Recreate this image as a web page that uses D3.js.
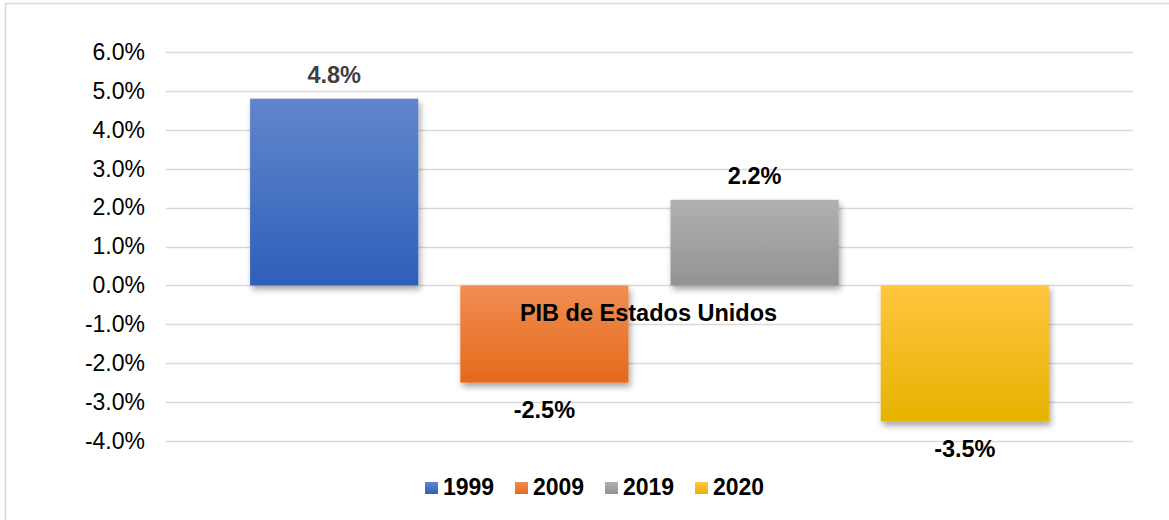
<!DOCTYPE html>
<html>
<head>
<meta charset="utf-8">
<script src="https://cdn.jsdelivr.net/npm/d3@7"></script>
<style>
  body { margin: 0; background: #fff; }
  svg { display: block; font-family: "Liberation Sans", Arial, sans-serif; }
</style>
</head>
<body>
<svg id="chart" width="1169" height="520"></svg>
<script>
// data
const series = ["1999", "2009", "2019", "2020"];
const values = [4.8, -2.5, 2.2, -3.5];
const yTicks = [-4, -3, -2, -1, 0, 1, 2, 3, 4, 5, 6];
const title = "PIB de Estados Unidos";
const gradStops = [
  ["#6186cc", "#2e5fb9"],
  ["#f18d52", "#e5691a"],
  ["#b0b0b0", "#939393"],
  ["#ffc640", "#e5b300"]
];
const labelColors = ["#404040", "#000", "#000", "#000"];

const svg = d3.select("#chart");
const W = 1169, H = 520;
const plot = {left: 166, right: 1133, top: 52, bottom: 441};

// hyphen instead of unicode minus, like the original
const pct = d => d3.format(".1f")(d).replace("\u2212", "-") + "%";

// outer border (only left/top visible in the picture)
svg.append("rect")
  .attr("x", 5.5).attr("y", 3.5)
  .attr("width", W + 50).attr("height", H + 50)
  .attr("fill", "none")
  .attr("stroke", "#d9d9d9")
  .attr("stroke-width", 1.5);

const y = d3.scaleLinear().domain([-4, 6]).range([plot.bottom, plot.top]);
const x = d3.scaleBand()
  .domain(series)
  .range([plot.left, plot.right])
  .paddingInner(0.2)
  .paddingOuter(0.4);

const defs = svg.append("defs");
series.forEach((s, i) => {
  const g = defs.append("linearGradient")
    .attr("id", "grad" + i)
    .attr("x1", 0).attr("y1", 0).attr("x2", 0).attr("y2", 1);
  g.append("stop").attr("offset", "0%").attr("stop-color", gradStops[i][0]);
  g.append("stop").attr("offset", "100%").attr("stop-color", gradStops[i][1]);
});
const shadow = defs.append("filter").attr("id", "shadow")
  .attr("x", "-10%").attr("y", "-10%").attr("width", "130%").attr("height", "140%");
shadow.append("feDropShadow")
  .attr("dx", 2).attr("dy", 4).attr("stdDeviation", 3)
  .attr("flood-color", "#000").attr("flood-opacity", 0.35);

// gridlines
svg.append("g")
  .selectAll("line")
  .data(yTicks)
  .join("line")
  .attr("x1", plot.left).attr("x2", plot.right)
  .attr("y1", d => Math.round(y(d)) + 0.5)
  .attr("y2", d => Math.round(y(d)) + 0.5)
  .attr("stroke", "#d9d9d9")
  .attr("stroke-width", 1.5);

// y axis labels
const yAxis = svg.append("g")
  .attr("transform", `translate(${plot.left},0)`)
  .call(d3.axisLeft(y).tickValues(yTicks).tickSize(0).tickPadding(21)
    .tickFormat(pct));
yAxis.select(".domain").remove();
yAxis.selectAll("text")
  .attr("font-family", "Liberation Sans, Arial, sans-serif")
  .attr("font-size", 23)
  .attr("fill", "#000");

// bars
svg.append("g")
  .selectAll("rect")
  .data(values)
  .join("rect")
  .attr("x", (d, i) => x(series[i]))
  .attr("width", x.bandwidth())
  .attr("y", d => y(Math.max(0, d)))
  .attr("height", d => Math.abs(y(d) - y(0)))
  .attr("fill", (d, i) => `url(#grad${i})`)
  .attr("filter", "url(#shadow)");

// value labels
svg.append("g")
  .selectAll("text")
  .data(values)
  .join("text")
  .attr("x", (d, i) => x(series[i]) + x.bandwidth() / 2)
  .attr("y", d => d >= 0 ? y(d) - 16 : y(d) + 35)
  .attr("text-anchor", "middle")
  .attr("font-size", 23.5)
  .attr("font-weight", "bold")
  .attr("fill", (d, i) => labelColors[i])
  .text(pct);

// title
svg.append("text")
  .attr("x", (plot.left + plot.right) / 2 - 1)
  .attr("y", 321)
  .attr("text-anchor", "middle")
  .attr("font-size", 23.5)
  .attr("font-weight", "bold")
  .attr("fill", "#000")
  .text(title);

// legend
const legend = svg.append("g")
  .selectAll("g")
  .data(series)
  .join("g")
  .attr("transform", (d, i) => `translate(${425 + i * 90},482)`);
legend.append("rect")
  .attr("width", 13).attr("height", 12)
  .attr("fill", (d, i) => `url(#grad${i})`);
legend.append("text")
  .attr("x", 18).attr("y", 13)
  .attr("font-size", 23)
  .attr("font-weight", "bold")
  .attr("fill", "#000")
  .text(d => d);
</script>
</body>
</html>
